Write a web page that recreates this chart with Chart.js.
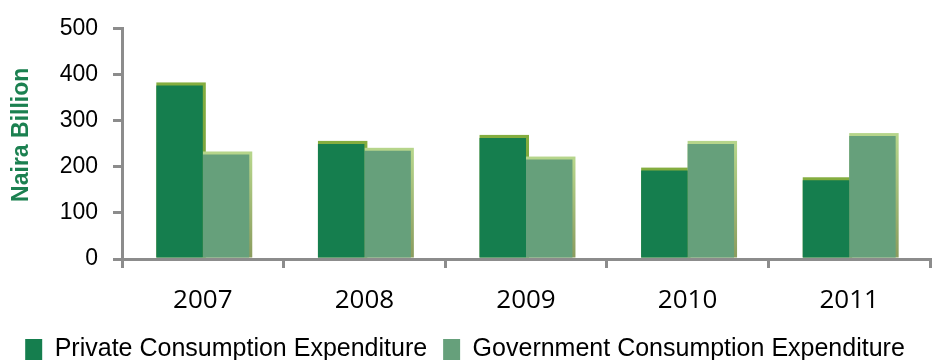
<!DOCTYPE html>
<html lang="en">
<head>
<meta charset="UTF-8">
<title>Consumption Expenditure</title>
<script src="https://cdn.jsdelivr.net/npm/chart.js@4.4.0/dist/chart.umd.min.js"></script>
<style>
  body { margin: 0; background: #fff; overflow: hidden; }
  .chart-box { width: 932px; height: 360px; position: relative; }
</style>
</head>
<body>
<div class="chart-box"><canvas id="expChart"></canvas></div>
<script>
const years = ['2007', '2008', '2009', '2010', '2011'];
const privateSpend = [377, 250, 263, 192, 171];
const govSpend = [227, 235, 216, 250, 267];
const yTicks = [0, 100, 200, 300, 400, 500];

const axisGrey = '#8c8c8c';

// lighter "depth" face behind each bar, shifted up and to the right
const barDepth = {
  id: 'barDepth',
  beforeDatasetsDraw(chart) {
    const ctx = chart.ctx;
    chart.data.datasets.forEach((ds, i) => {
      chart.getDatasetMeta(i).data.forEach(bar => {
        const p = bar.getProps(['x', 'y', 'base', 'width'], true);
        const left = p.x - p.width / 2;
        const g = ctx.createLinearGradient(0, p.y, 0, p.base);
        g.addColorStop(0, ds.depthTop);
        g.addColorStop(1, ds.depthBottom);
        ctx.save();
        ctx.fillStyle = g;
        ctx.fillRect(left, p.y - 3, p.width + 3, p.base - p.y + 3);
        ctx.restore();
      });
    });
  }
};

// rotated axis title, placed a bit above the middle like the original
const sideTitle = {
  id: 'sideTitle',
  afterDraw(chart) {
    const { ctx, chartArea } = chart;
    ctx.save();
    ctx.translate(22, chartArea.top + 106);
    ctx.rotate(-Math.PI / 2);
    ctx.font = 'bold 23px "Liberation Sans", Arial, sans-serif';
    ctx.fillStyle = '#1b8050';
    ctx.textAlign = 'center';
    ctx.textBaseline = 'middle';
    ctx.fillText('Naira Billion', 0, 0);
    ctx.restore();
  }
};

new Chart(document.getElementById('expChart'), {
  type: 'bar',
  data: {
    labels: years,
    datasets: [
      {
        label: 'Private Consumption Expenditure',
        data: privateSpend,
        backgroundColor: '#157e4e',
        borderWidth: 0,
        depthTop: '#84ad3f',
        depthBottom: '#6f9a3a'
      },
      {
        label: 'Government Consumption Expenditure',
        data: govSpend,
        backgroundColor: '#66a07b',
        borderWidth: 0,
        depthTop: '#b6d58b',
        depthBottom: '#8a9c5e'
      }
    ]
  },
  options: {
    responsive: true,
    maintainAspectRatio: false,
    animation: false,
    categoryPercentage: 0.575,
    barPercentage: 1.0,
    layout: { padding: { top: 22, left: 0, right: 2, bottom: -12 } },
    scales: {
      x: {
        afterFit: s => { s.height = 62; },
        grid: { offset: true, drawOnChartArea: false, drawTicks: true, tickLength: 9, color: axisGrey, lineWidth: 3 },
        border: { color: axisGrey, width: 3 },
        ticks: { color: '#000', padding: 17, font: { family: '"Open Sans", sans-serif', size: 26 } }
      },
      y: {
        min: 0,
        max: 500,
        afterFit: s => { s.width = 122; },
        afterBuildTicks: s => { s.ticks = yTicks.map(v => ({ value: v })); },
        grid: { drawOnChartArea: false, drawTicks: true, tickLength: 9, color: axisGrey, lineWidth: 3 },
        border: { color: axisGrey, width: 3 },
        ticks: { color: '#000', padding: 15, font: { family: '"Liberation Sans", Arial, sans-serif', size: 23 } }
      }
    },
    plugins: {
      tooltip: { enabled: false },
      legend: {
        position: 'bottom',
        labels: {
          color: '#000',
          boxWidth: 17,
          boxHeight: 21,
          padding: 16,
          font: { family: '"Liberation Sans", Arial, sans-serif', size: 25 }
        }
      }
    }
  },
  plugins: [barDepth, sideTitle]
});
</script>
</body>
</html>
